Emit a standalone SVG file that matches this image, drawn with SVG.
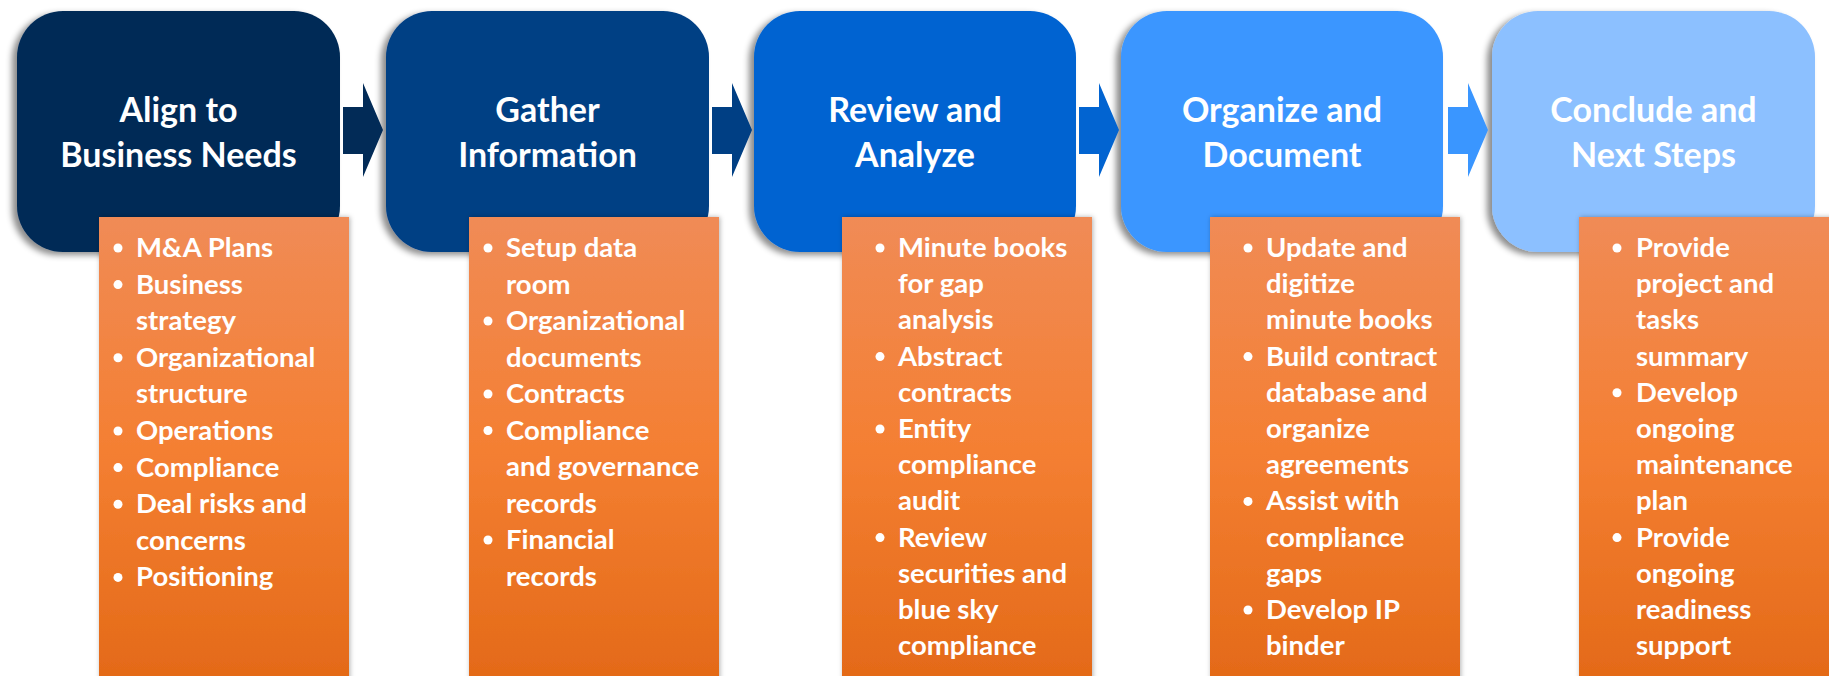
<svg xmlns="http://www.w3.org/2000/svg" width="1829" height="676" viewBox="0 0 1829 676">
<defs>
<linearGradient id="og" x1="0" y1="0" x2="0" y2="1">
<stop offset="0" stop-color="#F08B56"/>
<stop offset="0.5" stop-color="#F47F32"/>
<stop offset="1" stop-color="#E36917"/>
</linearGradient>
<filter id="bs" x="-10%" y="-10%" width="120%" height="125%">
<feDropShadow dx="-5" dy="3" stdDeviation="3" flood-color="#000" flood-opacity="0.45"/>
</filter>
<filter id="os" x="-10%" y="-5%" width="120%" height="115%">
<feDropShadow dx="1" dy="0" stdDeviation="2.5" flood-color="#000" flood-opacity="0.3"/>
</filter>
</defs>
<style>
.title{font-family:Lato,"Liberation Sans",sans-serif;font-weight:700;font-size:34px;fill:#fff;text-anchor:middle}
.item{font-family:Lato,"Liberation Sans",sans-serif;font-weight:700;font-size:27.5px;fill:#fff}
.dot{fill:#fff}
.box{filter:url(#bs)}
.list{fill:url(#og);filter:url(#os)}
</style>
<rect width="1829" height="676" fill="#fff"/>

<g id="node1">
<rect class="box" x="17" y="11" width="323" height="241" rx="46" fill="#022B57"/>
<text class="title" x="178.5" y="122">Align to</text>
<text class="title" x="178.5" y="167">Business Needs</text>
<rect class="list" x="99" y="217" width="250" height="470"/>
<g class="dot"><circle cx="118" cy="248" r="4.5"/><circle cx="118" cy="284.6" r="4.5"/><circle cx="118" cy="357.8" r="4.5"/><circle cx="118" cy="431" r="4.5"/><circle cx="118" cy="467.6" r="4.5"/><circle cx="118" cy="504.2" r="4.5"/><circle cx="118" cy="577.4" r="4.5"/></g>
<text class="item" x="136" y="257">M&amp;A Plans</text>
<text class="item" x="136" y="293.6">Business</text>
<text class="item" x="136" y="330.2">strategy</text>
<text class="item" x="136" y="366.8">Organizational</text>
<text class="item" x="136" y="403.4">structure</text>
<text class="item" x="136" y="440">Operations</text>
<text class="item" x="136" y="476.6">Compliance</text>
<text class="item" x="136" y="513.2">Deal risks and</text>
<text class="item" x="136" y="549.8">concerns</text>
<text class="item" x="136" y="586.4">Positioning</text>
</g>

<g id="node2">
<rect class="box" x="386" y="11" width="323" height="241" rx="46" fill="#003F84"/>
<text class="title" x="547.5" y="122">Gather</text>
<text class="title" x="547.5" y="167">Information</text>
<rect class="list" x="469" y="217" width="250" height="470"/>
<g class="dot"><circle cx="488" cy="248" r="4.5"/><circle cx="488" cy="321" r="4.5"/><circle cx="488" cy="394" r="4.5"/><circle cx="488" cy="430.5" r="4.5"/><circle cx="488" cy="540" r="4.5"/></g>
<text class="item" x="506" y="257">Setup data</text>
<text class="item" x="506" y="293.5">room</text>
<text class="item" x="506" y="330">Organizational</text>
<text class="item" x="506" y="366.5">documents</text>
<text class="item" x="506" y="403">Contracts</text>
<text class="item" x="506" y="439.5">Compliance</text>
<text class="item" x="506" y="476">and governance</text>
<text class="item" x="506" y="512.5">records</text>
<text class="item" x="506" y="549">Financial</text>
<text class="item" x="506" y="585.5">records</text>
</g>

<g id="node3">
<rect class="box" x="754" y="11" width="322" height="241" rx="46" fill="#0264D1"/>
<text class="title" x="915" y="122">Review and</text>
<text class="title" x="915" y="167">Analyze</text>
<rect class="list" x="842" y="217" width="250" height="470"/>
<g class="dot"><circle cx="880" cy="248" r="4.5"/><circle cx="880" cy="356.6" r="4.5"/><circle cx="880" cy="429" r="4.5"/><circle cx="880" cy="537.6" r="4.5"/></g>
<text class="item" x="898" y="257">Minute books</text>
<text class="item" x="898" y="293.2">for gap</text>
<text class="item" x="898" y="329.4">analysis</text>
<text class="item" x="898" y="365.6">Abstract</text>
<text class="item" x="898" y="401.8">contracts</text>
<text class="item" x="898" y="438">Entity</text>
<text class="item" x="898" y="474.2">compliance</text>
<text class="item" x="898" y="510.4">audit</text>
<text class="item" x="898" y="546.6">Review</text>
<text class="item" x="898" y="582.8">securities and</text>
<text class="item" x="898" y="619">blue sky</text>
<text class="item" x="898" y="655.2">compliance</text>
</g>

<g id="node4">
<rect class="box" x="1121" y="11" width="322" height="241" rx="46" fill="#3A96FF"/>
<text class="title" x="1282" y="122">Organize and</text>
<text class="title" x="1282" y="167">Document</text>
<rect class="list" x="1210" y="217" width="250" height="470"/>
<g class="dot"><circle cx="1248" cy="248" r="4.5"/><circle cx="1248" cy="356.6" r="4.5"/><circle cx="1248" cy="501.4" r="4.5"/><circle cx="1248" cy="610" r="4.5"/></g>
<text class="item" x="1266" y="257">Update and</text>
<text class="item" x="1266" y="293.2">digitize</text>
<text class="item" x="1266" y="329.4">minute books</text>
<text class="item" x="1266" y="365.6">Build contract</text>
<text class="item" x="1266" y="401.8">database and</text>
<text class="item" x="1266" y="438">organize</text>
<text class="item" x="1266" y="474.2">agreements</text>
<text class="item" x="1266" y="510.4">Assist with</text>
<text class="item" x="1266" y="546.6">compliance</text>
<text class="item" x="1266" y="582.8">gaps</text>
<text class="item" x="1266" y="619">Develop IP</text>
<text class="item" x="1266" y="655.2">binder</text>
</g>

<g id="node5">
<rect class="box" x="1492" y="11" width="323" height="241" rx="46" fill="#8CC0FF"/>
<text class="title" x="1653.5" y="122">Conclude and</text>
<text class="title" x="1653.5" y="167">Next Steps</text>
<rect class="list" x="1579" y="217" width="260" height="470"/>
<g class="dot"><circle cx="1617" cy="248" r="4.5"/><circle cx="1617" cy="392.8" r="4.5"/><circle cx="1617" cy="537.6" r="4.5"/></g>
<text class="item" x="1636" y="257">Provide</text>
<text class="item" x="1636" y="293.2">project and</text>
<text class="item" x="1636" y="329.4">tasks</text>
<text class="item" x="1636" y="365.6">summary</text>
<text class="item" x="1636" y="401.8">Develop</text>
<text class="item" x="1636" y="438">ongoing</text>
<text class="item" x="1636" y="474.2">maintenance</text>
<text class="item" x="1636" y="510.4">plan</text>
<text class="item" x="1636" y="546.6">Provide</text>
<text class="item" x="1636" y="582.8">ongoing</text>
<text class="item" x="1636" y="619">readiness</text>
<text class="item" x="1636" y="655.2">support</text>
</g>

<g id="connectors">
<polygon points="343,107 363,107 363,83 383,130 363,177 363,154 343,154" fill="#022B57"/>
<polygon points="712,107 732,107 732,83 752,130 732,177 732,154 712,154" fill="#003F84"/>
<polygon points="1079,107 1099,107 1099,83 1119,130 1099,177 1099,154 1079,154" fill="#0264D1"/>
<polygon points="1448,107 1468,107 1468,83 1488,130 1468,177 1468,154 1448,154" fill="#3A96FF"/>
</g>
</svg>
